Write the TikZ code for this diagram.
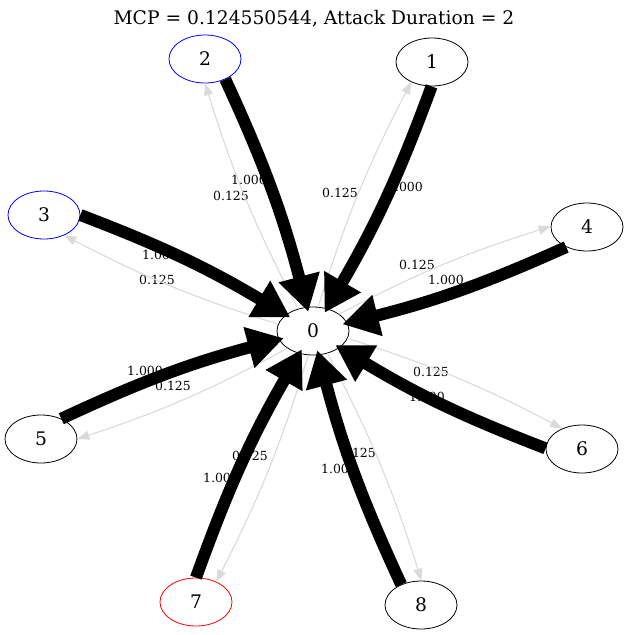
\documentclass[tikz,border=0pt]{standalone}
\usepackage{fontspec}
\setmainfont{DejaVu Serif}
\usetikzlibrary{arrows.meta,shapes.geometric}
\definecolor{edgegray}{RGB}{218,218,218}

\begin{document}
\begin{tikzpicture}[x=1pt,y=-1pt,
  host/.style={ellipse, draw, line width=0.8pt, minimum width=72pt, minimum height=48pt, inner sep=0pt, font=\fontsize{18.7}{20}\selectfont},
  wlabel/.style={font=\fontsize{12.5}{14}\selectfont},
  attack/.style={line width=12pt, -{Triangle[length=36pt,width=40pt]}, shorten >=-5pt, bend left=5},
  back/.style={line width=1.1pt, draw=edgegray, -{Triangle[length=12pt,width=9pt]}, bend left=5}]
\useasboundingbox (0,0) rectangle (629,635);
\node[font=\fontsize{18.7}{20}\selectfont] (title) at (314,19) {MCP = 0.124550544, Attack Duration = 2};
% hosts
\node[host] (h0) at (313,331) {0};
\node[host] (h1) at (432,62) {1};
\node[host, draw=blue] (h2) at (205,59) {2};
\node[host, draw=blue] (h3) at (44,215) {3};
\node[host] (h4) at (587,227) {4};
\node[host] (h5) at (41,439) {5};
\node[host] (h6) at (582,449) {6};
\node[host, draw=red] (h7) at (196,602) {7};
\node[host] (h8) at (421,605) {8};
% weights
\node[wlabel] (w1) at (405,187) {1.000};
\node[wlabel] (w2) at (249,180) {1.000};
\node[wlabel] (w3) at (160,255) {1.000};
\node[wlabel] (w4) at (446,280) {1.000};
\node[wlabel] (w5) at (145,371) {1.000};
\node[wlabel] (w6) at (427,397) {1.000};
\node[wlabel] (w7) at (221,478) {1.000};
\node[wlabel] (w8) at (339,469) {1.000};
\node[wlabel] (v1) at (340,193) {0.125};
\node[wlabel] (v2) at (231,196) {0.125};
\node[wlabel] (v3) at (157,280) {0.125};
\node[wlabel] (v4) at (417,265) {0.125};
\node[wlabel] (v5) at (173,386) {0.125};
\node[wlabel] (v6) at (431,372) {0.125};
\node[wlabel] (v7) at (250,456) {0.125};
\node[wlabel] (v8) at (358,453) {0.125};
% 0 -> hosts
\draw[back] (h0.78) to (h1.224);
\draw[back] (h0.124) to (h2.270);
\draw[back] (h0.169) to (h3.315);
\draw[back] (h0.33) to (h4.179);
\draw[back] (h0.214) to (h5.0);
\draw[back] (h0.-12) to (h6.134);
\draw[back] (h0.259) to (h7.45);
\draw[back] (h0.303) to (h8.89);
% hosts -> 0
\draw[attack] (h1.269) to (h0.58);
\draw[attack] (h2.315) to (h0.104);
\draw[attack] (h3.0) to (h0.149);
\draw[attack] (h4.224) to (h0.13);
\draw[attack] (h5.45) to (h0.194);
\draw[attack] (h6.179) to (h0.-32);
\draw[attack] (h7.90) to (h0.239);
\draw[attack] (h8.134) to (h0.283);
\end{tikzpicture}
\end{document}
